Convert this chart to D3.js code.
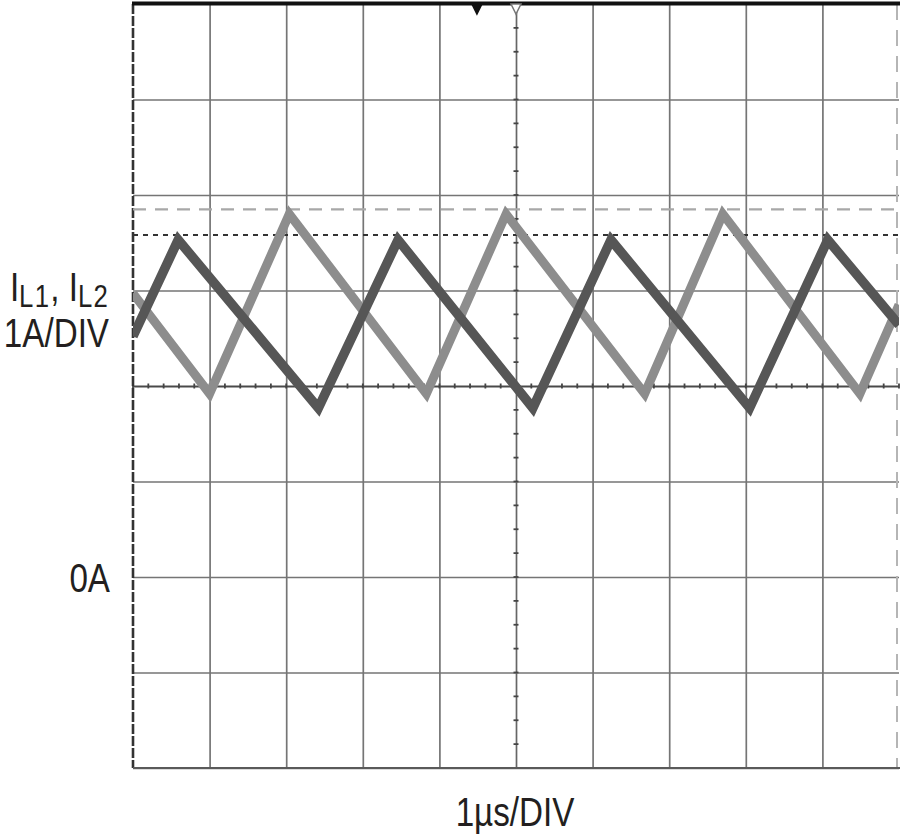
<!DOCTYPE html>
<html><head><meta charset="utf-8">
<script src="https://cdn.jsdelivr.net/npm/d3@7"></script>
<style>
html,body{margin:0;padding:0;background:#fff;}
svg{display:block;}
text{font-family:"Liberation Sans",Arial,Helvetica,sans-serif;fill:#231f20;}
</style></head>
<body>
<script>
// ---- data ----
const xGridTicks = [0,1,2,3,4,5,6,7,8,9,10];          // µs (1µs/DIV)
const yGridTicks = [-2,-1,0,1,2,3,4,5,6];             // A (1A/DIV)
const yTickLabels = [{v:0, label:"0A"}];
const il1Time = [0, 0.59, 2.42, 3.46, 5.22, 6.24, 8.05, 9.07, 10];
const il1Amps = [2.52, 3.53, 1.77, 3.53, 1.77, 3.53, 1.77, 3.53, 2.64];
const il2Time = [0, 1.0, 2.04, 3.83, 4.87, 6.68, 7.70, 9.49, 10];
const il2Amps = [2.97, 1.92, 3.80, 1.92, 3.80, 1.92, 3.80, 1.92, 2.85];
const cursorLevels = [{v:3.85, kind:"il2"}, {v:3.58, kind:"il1"}];
const triggerMarkers = [{t:4.49, filled:true}, {t:5.0, filled:false}];
const xLabel = "1µs/DIV";
const yLabelScale = "1A/DIV";

// ---- layout ----
const W = 900, H = 835;
const m = {left:133, right:1, top:4, bottom:67};
const SX = 0.83; // condensed text
const svg = d3.select("body").append("svg").attr("width",W).attr("height",H);
const x = d3.scaleLinear().domain([0,10]).range([m.left, W-m.right]);
const y = d3.scaleLinear().domain([-2,6]).range([H-m.bottom, m.top]);
const pw = x.range()[1]-x.range()[0], ph = y.range()[0]-y.range()[1];

svg.append("defs").append("clipPath").attr("id","clip")
  .append("rect").attr("x",m.left).attr("y",m.top).attr("width",pw).attr("height",ph);

// grid via axes
const gx = svg.append("g").attr("transform",`translate(0,${y(-2)})`)
  .call(d3.axisBottom(x).tickValues(xGridTicks.slice(1,-1)).tickSize(-ph).tickFormat(""));
gx.select(".domain").remove();
gx.selectAll("line").attr("stroke","#757575").attr("stroke-width",1.7);
const gy = svg.append("g").attr("transform",`translate(${m.left},0)`)
  .call(d3.axisLeft(y).tickValues(yGridTicks.slice(0,-1)).tickSize(-pw).tickFormat(""));
gy.select(".domain").remove();
gy.selectAll("line").attr("stroke","#757575").attr("stroke-width",1.7);
gy.selectAll(".tick").filter(d=>d===2).select("line").attr("stroke","#4a4a4a").attr("stroke-width",1.8);
gx.selectAll(".tick").filter(d=>d===5).select("line").attr("stroke","#666");

// minor ticks on center lines
const minorX = d3.range(0, 10.001, 0.2);
svg.append("g").selectAll("line").data(minorX).join("line")
  .attr("x1",d=>x(d)).attr("x2",d=>x(d)).attr("y1",y(2)-2.5).attr("y2",y(2)+2.5)
  .attr("stroke","#444").attr("stroke-width",1.8);
const minorY = d3.range(-2, 6.001, 0.25);
svg.append("g").selectAll("line").data(minorY).join("line")
  .attr("x1",x(5)-2.5).attr("x2",x(5)+2.5).attr("y1",d=>y(d)).attr("y2",d=>y(d))
  .attr("stroke","#444").attr("stroke-width",1.8);

// borders
svg.append("line").attr("x1",x(0)).attr("x2",x(0)).attr("y1",y(6)).attr("y2",y(-2))
  .attr("stroke","#333").attr("stroke-width",2.6).attr("stroke-dasharray","10,2");
svg.append("line").attr("x1",x(10)-2).attr("x2",x(10)-2).attr("y1",y(6)).attr("y2",y(-2))
  .attr("stroke","#b5b5b5").attr("stroke-width",2).attr("stroke-dasharray","16,10");
svg.append("line").attr("x1",x(0)).attr("x2",W).attr("y1",y(-2)).attr("y2",y(-2))
  .attr("stroke","#5a5a5a").attr("stroke-width",2);
svg.append("line").attr("x1",x(0)-1).attr("x2",W).attr("y1",y(6)-0.5).attr("y2",y(6)-0.5)
  .attr("stroke","#111").attr("stroke-width",4);

// cursor levels
svg.append("g").selectAll("line").data(cursorLevels).join("line")
  .attr("x1",x(0)).attr("x2",x(10)).attr("y1",d=>y(d.v)).attr("y2",d=>y(d.v))
  .attr("stroke",d=>d.kind==="il2"?"#a8a8a8":"#333")
  .attr("stroke-width",d=>d.kind==="il2"?2.4:2)
  .attr("stroke-dasharray",d=>d.kind==="il2"?"13,9":"5,5");

// waveforms
const line = d3.line().x(d=>x(d[0])).y(d=>y(d[1]));
const wave = svg.append("g").attr("clip-path","url(#clip)");
wave.append("path").datum(d3.zip(il2Time, il2Amps)).attr("d",line)
  .attr("fill","none").attr("stroke","#8d8d8d").attr("stroke-width",9)
  .attr("stroke-linejoin","miter");
wave.append("path").datum(d3.zip(il1Time, il1Amps)).attr("d",line)
  .attr("fill","none").attr("stroke","#565656").attr("stroke-width",9.5)
  .attr("stroke-linejoin","miter");

// trigger markers
svg.append("g").selectAll("path").data(triggerMarkers).join("path")
  .attr("d",d=>{const cx=x(d.t), t=y(6); return `M${cx-5},${t} L${cx+5},${t} L${cx},${t+10} Z`;})
  .attr("fill",d=>d.filled?"#111":"#fff")
  .attr("stroke",d=>d.filled?"#111":"#777").attr("stroke-width",1.5);

// labels (condensed via horizontal scale)
function label(xp, yp, anchor){
  return svg.append("g").attr("transform",`translate(${xp},${yp}) scale(${SX},1)`)
    .append("text").attr("text-anchor",anchor).attr("font-size",40);
}
const yl = svg.append("g").attr("transform",`translate(${m.left},0)`)
  .call(d3.axisLeft(y).tickValues(yTickLabels.map(d=>d.v)).tickSize(0).tickPadding(0)
    .tickFormat(v=>yTickLabels.find(d=>d.v===v).label));
yl.select(".domain").remove();
yl.selectAll("text").attr("font-size",40).attr("x",0).attr("dy","0.36em")
  .attr("transform",`translate(-23,0) scale(${SX},1)`)
  .style("font-family",'"Liberation Sans",Arial,sans-serif').attr("fill","#231f20");

const t1 = label(109, 301, "end");
t1.append("tspan").text("I");
t1.append("tspan").attr("font-size",31).attr("dy",6).attr("letter-spacing",1.5).text("L1");
t1.append("tspan").attr("dy",-6).text(", I");
t1.append("tspan").attr("font-size",31).attr("dy",6).attr("letter-spacing",1.5).text("L2");
label(109, 347, "end").text(yLabelScale);
label(x(5)-1, 826, "middle").text(xLabel);
</script>
</body></html>
